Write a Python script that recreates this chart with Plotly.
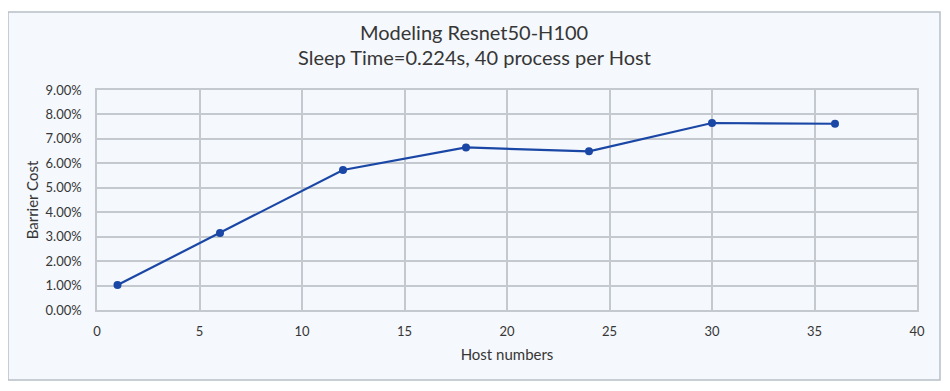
import plotly.graph_objects as go

hosts = [1, 6, 12, 18, 24, 30, 36]
barrier_cost = [0.0102, 0.0315, 0.0573, 0.0665, 0.0649, 0.0765, 0.0762]
x_ticks = [0, 5, 10, 15, 20, 25, 30, 35, 40]
y_ticks = [0.0, 0.01, 0.02, 0.03, 0.04, 0.05, 0.06, 0.07, 0.08, 0.09]

# page has an 8px body margin, so the figure starts at page (8, 8)
OFF = 8
W, H = 950 - OFF, 391 - OFF
PL, PR, PT, PB = 97, 917, 90, 310  # plot area in page pixels
L, R, T, B = PL - OFF, W - (PR - OFF), PT - OFF, H - (PB - OFF)
bg = "#f5f8fc"
grid = "#c3c9cf"
txt = "#363636"
font = "Lato, 'Open Sans', sans-serif"

fig = go.Figure()
fig.add_trace(go.Scatter(
    x=hosts, y=barrier_cost, mode="lines+markers",
    line=dict(color="#1a47a6", width=2.2),
    marker=dict(color="#1a47a6", size=8),
    showlegend=False,
))

def px_x(p):
    return (p - PL) / (PR - PL)

def px_y(p):
    return (PB - p) / (PB - PT)

fig.add_shape(type="rect", xref="paper", yref="paper",
              x0=px_x(8), x1=px_x(940), y0=px_y(380), y1=px_y(12),
              line=dict(color="#b8bfc6", width=1.5), fillcolor=bg, layer="below")

fig.add_annotation(text="Modeling Resnet50-H100", xref="paper", yref="paper",
                   x=px_x(474), y=px_y(32), xanchor="center", yanchor="middle",
                   showarrow=False, font=dict(family=font, size=20, color=txt))
fig.add_annotation(text="Sleep Time=0.224s, 40 process per Host", xref="paper", yref="paper",
                   x=px_x(474), y=px_y(57), xanchor="center", yanchor="middle",
                   showarrow=False, font=dict(family=font, size=20, color=txt))

fig.update_layout(
    width=W, height=H,
    margin=dict(l=L, r=R, t=T, b=B, autoexpand=False),
    paper_bgcolor="white", plot_bgcolor=bg,
    font=dict(family=font, size=13, color=txt),
    xaxis=dict(range=[0, 40], tickvals=x_ticks, showgrid=True, gridcolor=grid,
               gridwidth=1.5, zeroline=False, showline=True, linecolor=grid, linewidth=1.5,
               mirror=True, ticks="outside", ticklen=9, tickcolor="rgba(0,0,0,0)",
               automargin=False,
               title=dict(text="Host numbers", font=dict(size=15, family=font, color=txt), standoff=11),
               tickfont=dict(size=13)),
    yaxis=dict(range=[0, 0.09], tickvals=y_ticks, tickformat=".2%", showgrid=True,
               gridcolor=grid, gridwidth=1.5, zeroline=False, showline=True, linecolor=grid,
               linewidth=1.5, mirror=True, ticks="outside", ticklen=11, tickcolor="rgba(0,0,0,0)",
               automargin=False,
               title=dict(text="Barrier Cost", font=dict(size=15, family=font, color=txt), standoff=3),
               tickfont=dict(size=13)),
)

fig.write_html("out.html")
